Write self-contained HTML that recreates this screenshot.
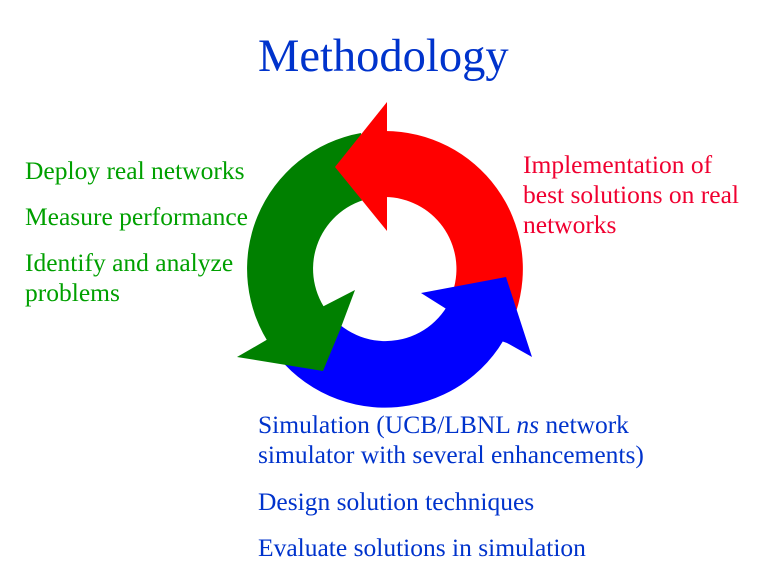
<!DOCTYPE html>
<html><head><style>
body{margin:0;width:768px;height:576px;background:#fff;overflow:hidden;position:relative;font-family:"Liberation Serif",serif}
.t{position:absolute;white-space:nowrap;font-size:25.5px;line-height:30px}
.g{color:#00a000}.r{color:#f00030}.b{color:#0033cc}
</style></head><body>
<div class="t b" style="left:258px;top:29px;font-size:46.5px;line-height:56px">Methodology</div>
<svg width="768" height="576" style="position:absolute;left:0;top:0">
<path d="M361,133 A138 138 0 0 0 272,348 L326,310 A72 72 0 0 1 372,198 Z" fill="#008000"/>
<path d="M385,131 A138,138 0 0 1 516,312 L453,291 A72,72 0 0 0 385,197 Z" fill="#ff0000"/>
<polygon points="387,102 335,167 387,231" fill="#ff0000"/>
<path d="M279,358 A138 138 0 0 0 515,316 L453,294 A72 72 0 0 1 330,315 Z" fill="#0000ff"/>
<polygon points="421,293 506,277 532,357 507,343 470,330 448,310" fill="#0000ff"/>
<polygon points="355,290 322,307 263,342 237,357 323,371 340,330" fill="#008000"/>
</svg>
<div class="t g" style="left:25px;top:156px">Deploy real networks</div>
<div class="t g" style="left:25px;top:202px">Measure performance</div>
<div class="t g" style="left:25px;top:248px">Identify and analyze<br>problems</div>
<div class="t r" style="left:523px;top:150px">Implementation of<br>best solutions on real<br>networks</div>
<div class="t b" style="left:258px;top:410px">Simulation (UCB/LBNL <i>ns</i> network<br>simulator with several enhancements)</div>
<div class="t b" style="left:258px;top:487px">Design solution techniques</div>
<div class="t b" style="left:258px;top:533px">Evaluate solutions in simulation</div>
</body></html>
